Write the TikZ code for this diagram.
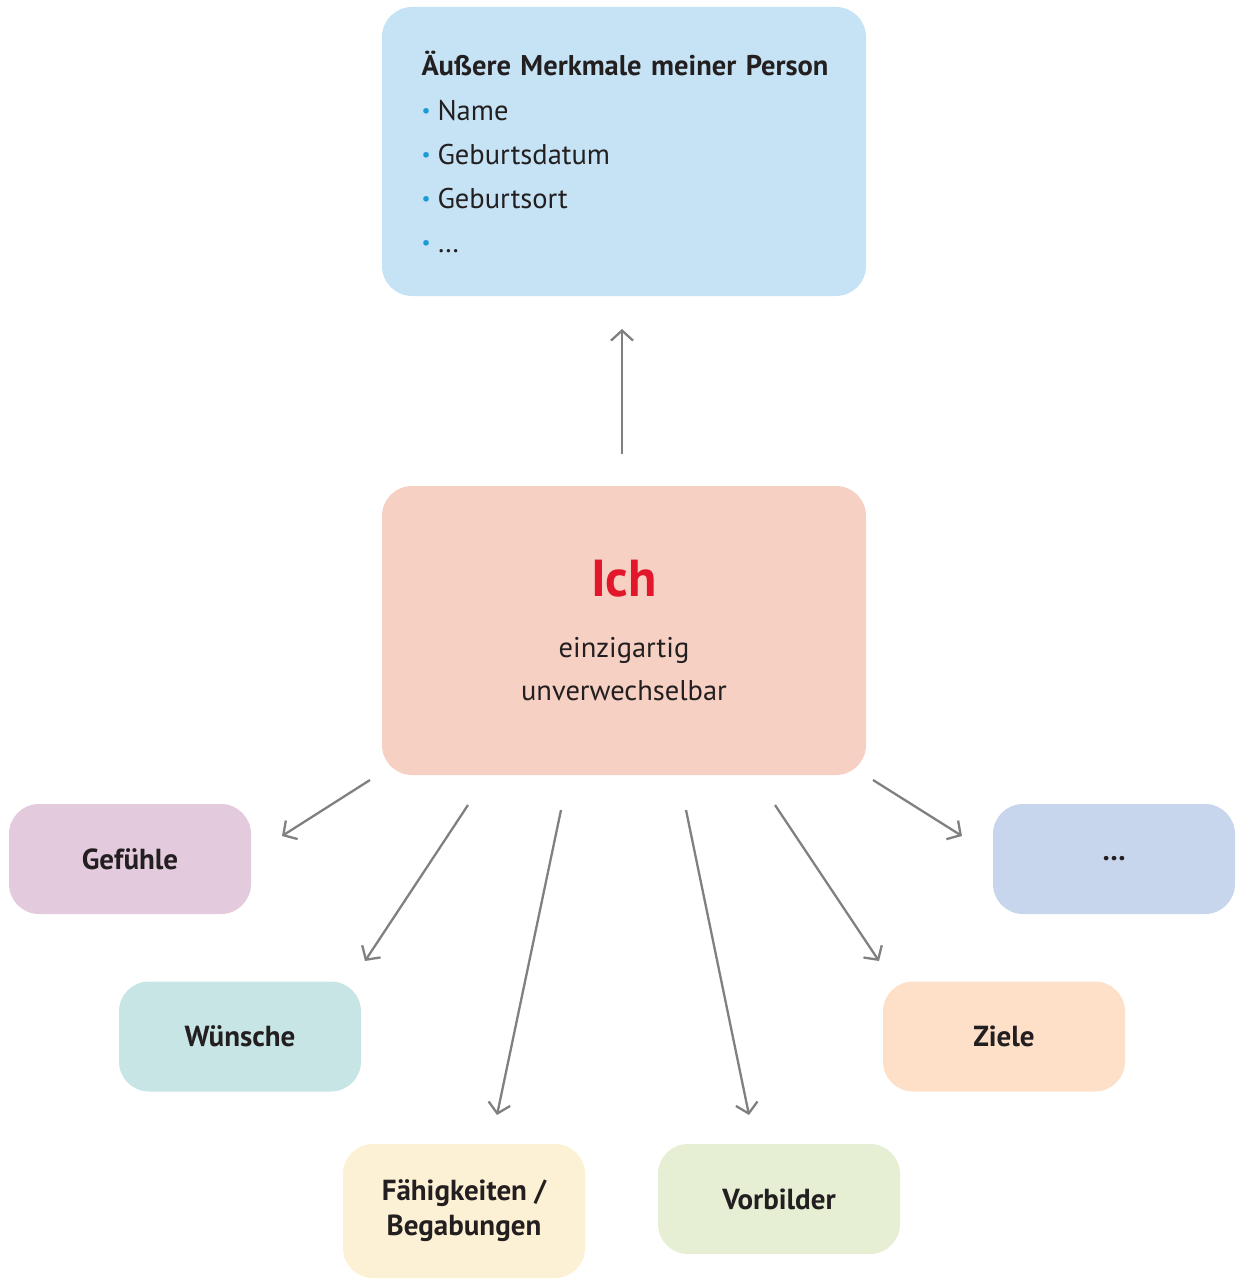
\documentclass[tikz,border=0pt]{standalone}
\usepackage{fontspec}
\setmainfont{PT Sans}
\usepackage{xcolor}
\usepackage{tikz}
\usetikzlibrary{arrows.meta}

\definecolor{textdunkel}{HTML}{231F20}
\definecolor{pfeilgrau}{HTML}{808080}
\definecolor{punktblau}{HTML}{1C9AD6}
\definecolor{ichrot}{HTML}{E2172B}
\definecolor{fAussen}{HTML}{C5E3F4}
\definecolor{fIch}{HTML}{F6D0C3}
\definecolor{fGefuehle}{HTML}{E3CADC}
\definecolor{fWuensche}{HTML}{C6E5E4}
\definecolor{fFaehig}{HTML}{FDF1D5}
\definecolor{fVorbild}{HTML}{E6EED3}
\definecolor{fZiele}{HTML}{FEE0C8}
\definecolor{fWeitere}{HTML}{C7D5ED}

\newcommand{\punkt}{{\color{punktblau}\fontsize{20}{20}\selectfont\raisebox{3pt}{\textbullet}}\hspace{7pt}}

\begin{document}
\begin{tikzpicture}[x=1pt, y=-1pt,
    box/.style={rounded corners=30pt, inner sep=0pt, align=center, text=textdunkel,
        minimum width=242pt, minimum height=110pt, font=\fontsize{29}{35}\selectfont\bfseries},
    bigbox/.style={rounded corners=30pt, inner sep=0pt, text=textdunkel,
        minimum width=484pt, minimum height=289pt, font=\fontsize{28.5}{44}\selectfont},
    pfeil/.style={pfeilgrau, line width=2.3pt, -{Straight Barb[length=10pt,width=22pt]}}]
    \useasboundingbox (0,0) rectangle (1235,1279);

    % oben
    \node [bigbox, fill=fAussen, text width=405pt, align=left] (aussen) at (624,151.5)
        {\mbox{\textbf{Äußere Merkmale meiner Person}}\\[1pt]
         \punkt Name\\ \punkt Geburtsdatum\\ \punkt Geburtsort\\ \punkt \dots};
    % mitte
    \node [bigbox, fill=fIch, align=center] (ich) at (624,630.5)
        {{\fontsize{52}{60}\selectfont\bfseries\color{ichrot}Ich}\\[17pt]
         einzigartig\\[-1pt] unverwechselbar};

    % unten
    \node [box, fill=fGefuehle] (gefuehle) at (130,859) {Gefühle};
    \node [box, fill=fWuensche] (wuensche) at (240,1036.5) {Wünsche};
    \node [box, fill=fFaehig, minimum height=134pt] (faehig) at (464,1211) {Fähigkeiten /\\Begabungen};
    \node [box, fill=fVorbild] (vorbild) at (779,1199) {Vorbilder};
    \node [box, fill=fZiele] (ziele) at (1004,1036.5) {Ziele};
    \node [box, fill=fWeitere] (weitere) at (1114,859) {\dots};

    % pfeil-enden
    \coordinate (oA) at (622,454);
    \coordinate (oB) at (622,329);
    \coordinate (gA) at (370,780);
    \coordinate (gB) at (282,836);
    \coordinate (wA) at (468,805);
    \coordinate (wB) at (365,961);
    \coordinate (fA) at (561,810);
    \coordinate (fB) at (497,1115);
    \coordinate (vA) at (686,810);
    \coordinate (vB) at (749,1115);
    \coordinate (zA) at (775,805);
    \coordinate (zB) at (879,961);
    \coordinate (xA) at (873,780);
    \coordinate (xB) at (962,836);

    \draw [pfeil] (oA) -- (oB);
    \draw [pfeil] (gA) -- (gB);
    \draw [pfeil] (wA) -- (wB);
    \draw [pfeil] (fA) -- (fB);
    \draw [pfeil] (vA) -- (vB);
    \draw [pfeil] (zA) -- (zB);
    \draw [pfeil] (xA) -- (xB);
\end{tikzpicture}
\end{document}
